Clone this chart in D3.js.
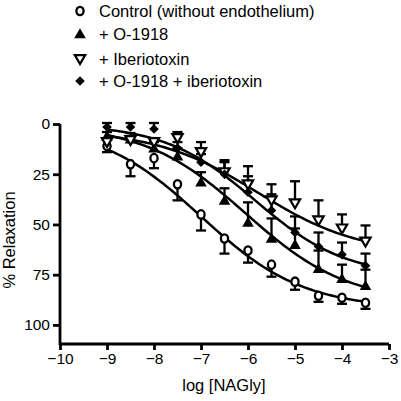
<!DOCTYPE html>
<html>
<head>
<meta charset="utf-8">
<script src="https://cdn.jsdelivr.net/npm/d3@7"></script>
<style>
  html, body { margin: 0; padding: 0; background: #fff; }
  svg { display: block; }
  text { font-family: "Liberation Sans", Arial, Helvetica, sans-serif; fill: #000; }
</style>
</head>
<body>
<svg id="chart" width="401" height="401"></svg>
<script>
// ---- data ----
const logConc = [-9, -8.5, -8, -7.5, -7, -6.5, -6, -5.5, -5, -4.5, -4, -3.5];

const controlMean = [11, 20, 17, 30, 45, 57, 63, 70, 78.5, 85.5, 86.5, 89];
const controlErr  = [3, 6, 5, 8, 8, 7.5, 6, 6, 4, 3, 3, 3];

const o1918Mean = [6, 7.5, 12, 16, 29, 38, 49, 57, 60, 72, 77, 80.5];
const o1918Err  = [2, 3, 3, 4, 5, 6, 10, 10, 8, 9, 7, 8];

const iberioMean = [9, 8, 9, 7, 14, 24, 30, 38, 39.5, 48, 52, 58.5];
const iberioErr  = [2, 2, 2, 3, 5, 6, 9, 8, 11, 10, 7, 8];

const comboMean = [1.5, 1.5, 2.5, 12, 19, 25, 34, 43, 54, 61, 65, 70.5];
const comboErr  = [2, 2, 3, 3, 4, 6, 8, 8, 8, 7, 6, 6];

// fitted sigmoid parameters: [top, bottom, logEC50, hill]
const controlFit = [0, 92, -7.0, 0.4];
const o1918Fit   = [0, 89, -6.05, 0.4];
const iberioFit  = [3, 65, -5.8, 0.4];
const comboFit   = [0, 76, -5.85, 0.45];

const legendLabels = ["Control (without endothelium)", "+ O-1918", "+ Iberiotoxin", "+ O-1918 + iberiotoxin"];
const xTicks = [-10, -9, -8, -7, -6, -5, -4, -3];
const yTicks = [0, 25, 50, 75, 100];

// ---- layout ----
const svg = d3.select("#chart");
const x = d3.scaleLinear().domain([-10, -3]).range([60, 389]);
const y = d3.scaleLinear().domain([0, 109.5]).range([124, 344]);

// axes
const xAxis = d3.axisBottom(x).tickValues(xTicks).tickSize(6).tickPadding(3)
  .tickFormat(d => String(d).replace("-", "\u2212"));
const gx = svg.append("g").attr("transform", "translate(0,344)").call(xAxis);
gx.select(".domain").attr("d", "M60,0H389").attr("stroke", "#000").attr("stroke-width", 2.8);
gx.selectAll(".tick line").attr("stroke", "#000").attr("stroke-width", 2.8);
gx.selectAll(".tick text").attr("font-size", 15.5).attr("font-family", "Liberation Sans, Arial, sans-serif");

const yAxis = d3.axisLeft(y).tickValues(yTicks).tickSize(7).tickPadding(3);
const gy = svg.append("g").attr("transform", "translate(60,0)").call(yAxis);
gy.select(".domain").attr("d", "M0," + y(0) + "V345").attr("stroke", "#000").attr("stroke-width", 2.8);
gy.selectAll(".tick line").attr("stroke", "#000").attr("stroke-width", 2.8);
gy.selectAll(".tick text").attr("font-size", 15.5).attr("font-family", "Liberation Sans, Arial, sans-serif");

svg.append("text").attr("x", 224).attr("y", 391).attr("text-anchor", "middle")
  .attr("font-size", 16.5).text("log [NAGly]");
svg.append("text").attr("transform", "translate(15,240) rotate(-90)").attr("text-anchor", "middle")
  .attr("font-size", 16.5).text("% Relaxation");

// series
const series = [
  { mean: controlMean, err: controlErr, dir: 1, fit: controlFit, sym: "circle" },
  { mean: o1918Mean, err: o1918Err, dir: -1, fit: o1918Fit, sym: "triUp" },
  { mean: iberioMean, err: iberioErr, dir: -1, fit: iberioFit, sym: "triDown" },
  { mean: comboMean, err: comboErr, dir: -1, fit: comboFit, sym: "diamond" }
];

function sigmoid(p, lx) {
  const [top, bottom, ec50, h] = p;
  return top + (bottom - top) / (1 + Math.pow(10, h * (ec50 - lx)));
}

function drawSymbol(g, kind, cx, cy) {
  if (kind === "circle") {
    g.append("ellipse").attr("cx", cx).attr("cy", cy).attr("rx", 3.6).attr("ry", 4.2)
      .attr("fill", "#fff").attr("stroke", "#000").attr("stroke-width", 2.3);
  } else if (kind === "triUp") {
    g.append("path").attr("d", d3.symbol(d3.symbolTriangle, 58)())
      .attr("transform", `translate(${cx},${cy + 1})`).attr("fill", "#000");
  } else if (kind === "triDown") {
    g.append("path").attr("d", d3.symbol(d3.symbolTriangle, 46)())
      .attr("transform", `translate(${cx},${cy - 1}) rotate(180)`)
      .attr("fill", "#fff").attr("stroke", "#000").attr("stroke-width", 2.2);
  } else {
    g.append("path").attr("d", d3.symbol(d3.symbolSquare, 46)())
      .attr("transform", `translate(${cx},${cy}) rotate(45)`).attr("fill", "#000");
  }
}

const curveX = d3.range(0, 111).map(i => -9 + i * 0.05);
const line = d3.line().x(d => x(d[0])).y(d => y(d[1])).curve(d3.curveMonotoneX);

const gCurves = svg.append("g");
series.forEach(s => {
  gCurves.append("path").datum(curveX.map(lx => [lx, sigmoid(s.fit, lx)]))
    .attr("d", line).attr("fill", "none").attr("stroke", "#000").attr("stroke-width", 2.5);
});

const gErr = svg.append("g").attr("stroke", "#000").attr("stroke-width", 2.3);
series.forEach(s => {
  logConc.forEach((lx, i) => {
    const cx = x(lx), y0 = y(s.mean[i]), y1 = y(s.mean[i] + s.dir * s.err[i]);
    gErr.append("line").attr("x1", cx).attr("x2", cx).attr("y1", y0).attr("y2", y1);
    gErr.append("line").attr("x1", cx - 5).attr("x2", cx + 5).attr("y1", y1).attr("y2", y1);
  });
});

const gPts = svg.append("g");
series.forEach(s => {
  logConc.forEach((lx, i) => drawSymbol(gPts, s.sym, x(lx), y(s.mean[i])));
});

// legend
const legendY = [11, 34, 59, 81];
const gLeg = svg.append("g");
series.forEach((s, i) => {
  drawSymbol(gLeg, s.sym, 80, legendY[i]);
  gLeg.append("text").attr("x", 99).attr("y", legendY[i] + 6).attr("font-size", 16.5)
    .text(legendLabels[i]);
});
</script>
</body>
</html>
